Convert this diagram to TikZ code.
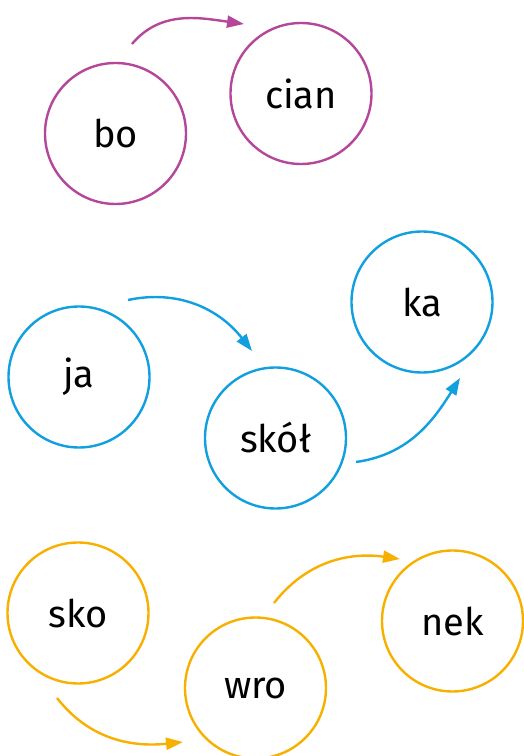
\documentclass[tikz,border=0pt]{standalone}
\usepackage{fontspec}
\setmainfont{Fira Sans}
\usetikzlibrary{arrows.meta}
\definecolor{cmag}{HTML}{B5479B}
\definecolor{cblue}{HTML}{109FDF}
\definecolor{corange}{HTML}{F8B000}
\begin{document}
\begin{tikzpicture}[x=1pt,y=1pt,
  syl/.style={circle,draw=#1,line width=2.4pt,minimum size=141pt,inner sep=0pt,font=\fontsize{38}{44}\selectfont},
  arr/.style={draw=#1,line width=2.4pt,-{Triangle[length=17pt,width=12pt]},#1}]
\useasboundingbox (0,0) rectangle (523,756);
% magenta
\node[syl=cmag] (bo) at (115.5,622.5) {bo};
\node[syl=cmag] (cian) at (301,662.5) {cian};
\coordinate (a1s) at (132,712);
\coordinate (a1e) at (244,732);
\draw[arr=cmag] (a1s) to[out=50,in=172] (a1e);
% blue
\node[syl=cblue] (ja) at (79,379) {ja};
\node[syl=cblue] (skol) at (275.5,318) {skół};
\node[syl=cblue] (ka) at (422,454) {ka};
\coordinate (a2s) at (128,456);
\coordinate (a2e) at (252,405);
\draw[arr=cblue] (a2s) to[out=12,in=128] (a2e);
\coordinate (a3s) at (356,294);
\coordinate (a3e) at (460,378);
\draw[arr=cblue] (a3s) to[out=8,in=238] (a3e);
% orange
\node[syl=corange] (sko) at (78,143) {sko};
\node[syl=corange] (wro) at (255.5,68) {wro};
\node[syl=corange] (nek) at (452.5,135) {nek};
\coordinate (a4s) at (57,58);
\coordinate (a4e) at (183,14);
\draw[arr=corange] (a4s) to[out=-52,in=186] (a4e);
\coordinate (a5s) at (274,153);
\coordinate (a5e) at (400,197);
\draw[arr=corange] (a5s) to[out=52,in=172] (a5e);
\end{tikzpicture}
\end{document}
